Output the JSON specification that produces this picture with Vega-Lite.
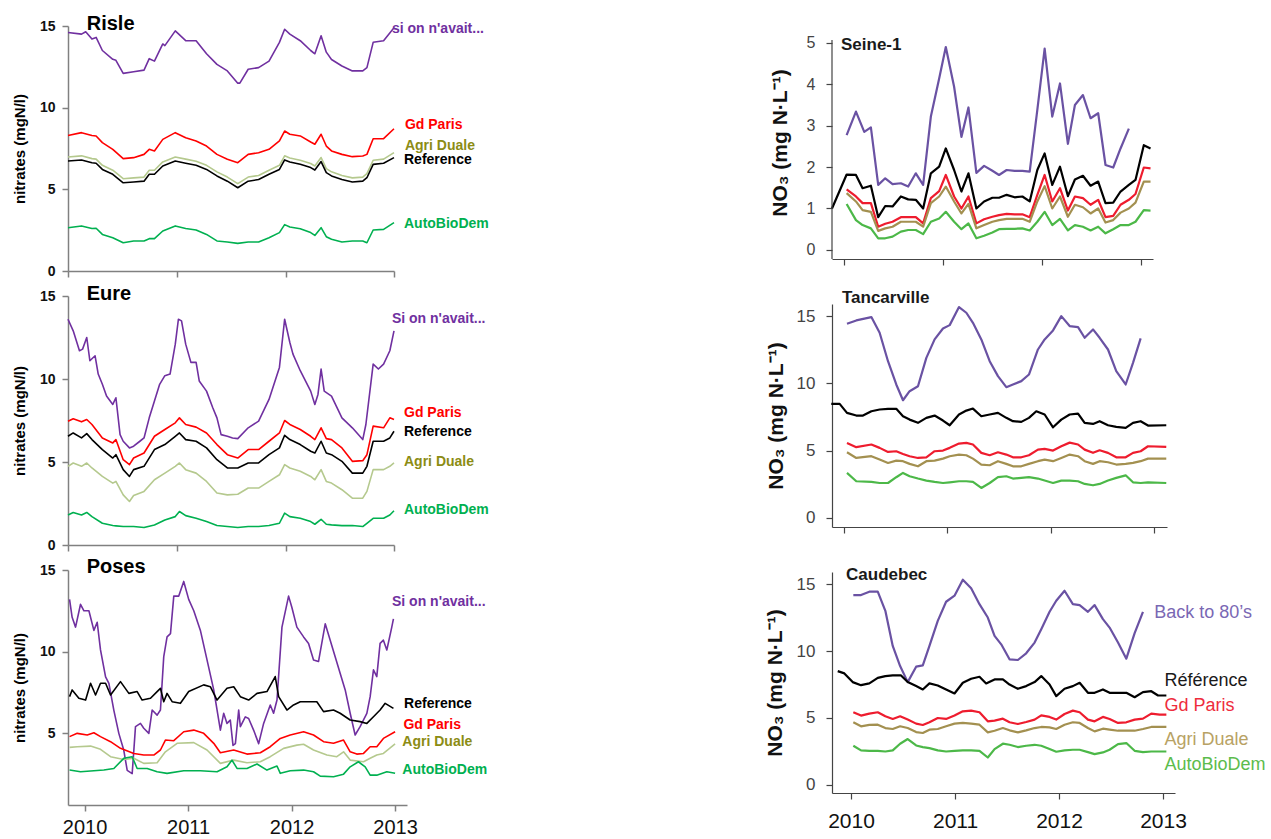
{
"$schema": "https://vega.github.io/schema/vega-lite/v6.json",
"background": "white",
"padding": {"left": 12, "top": 14, "right": 0, "bottom": 0},
"config": {"view": {"stroke": null}, "font": "Liberation Sans", "axis": {"grid": false}, "line": {"strokeJoin": "round"}},
"datasets": {
"lines": [
{"p":"Risle","s":"S","t":[2009.87,2010.0,2010.04,2010.1,2010.14,2010.2,2010.3,2010.33,2010.4,2010.5,2010.6,2010.65,2010.7,2010.78,2010.8,2010.9,2011.0,2011.1,2011.2,2011.3,2011.4,2011.5,2011.52,2011.6,2011.7,2011.8,2011.9,2011.95,2012.0,2012.1,2012.2,2012.24,2012.3,2012.35,2012.4,2012.5,2012.6,2012.7,2012.74,2012.8,2012.9,2013.0],"v":[14.6,14.5,14.65,14.2,14.3,13.5,12.96,12.9,12.1,12.2,12.3,13.0,12.85,13.9,13.8,14.7,14.1,14.1,13.3,12.65,12.25,11.5,11.5,12.35,12.45,12.85,14.0,14.8,14.5,14.1,13.5,13.3,14.4,13.4,12.95,12.55,12.25,12.25,12.45,14.0,14.1,14.9]},
{"p":"Risle","s":"G","t":[2009.87,2010.0,2010.1,2010.14,2010.2,2010.3,2010.4,2010.5,2010.6,2010.65,2010.7,2010.78,2010.9,2011.0,2011.1,2011.2,2011.3,2011.4,2011.5,2011.6,2011.7,2011.8,2011.9,2011.95,2012.0,2012.1,2012.2,2012.24,2012.3,2012.35,2012.4,2012.5,2012.6,2012.7,2012.74,2012.8,2012.9,2013.0],"v":[8.3,8.47,8.3,8.27,7.86,7.45,6.88,6.94,7.14,7.45,7.35,8.06,8.47,8.16,7.96,7.65,7.14,6.84,6.63,7.14,7.24,7.45,7.96,8.57,8.37,8.27,7.9,7.76,8.37,7.65,7.35,7.14,7.0,7.04,7.14,8.1,8.1,8.71]},
{"p":"Risle","s":"A","t":[2009.87,2010.0,2010.1,2010.14,2010.2,2010.3,2010.4,2010.5,2010.6,2010.65,2010.7,2010.78,2010.9,2011.0,2011.1,2011.2,2011.3,2011.4,2011.5,2011.6,2011.7,2011.8,2011.9,2011.95,2012.0,2012.1,2012.2,2012.24,2012.3,2012.35,2012.4,2012.5,2012.6,2012.7,2012.74,2012.8,2012.9,2013.0],"v":[6.98,7.05,6.88,6.85,6.47,6.17,5.65,5.7,5.75,6.17,6.17,6.68,6.98,6.85,6.72,6.47,6.07,5.75,5.35,5.75,5.85,6.17,6.47,7.05,6.92,6.78,6.58,6.43,6.95,6.27,6.07,5.85,5.7,5.75,5.96,6.78,6.85,7.25]},
{"p":"Risle","s":"R","t":[2009.87,2010.0,2010.1,2010.14,2010.2,2010.3,2010.4,2010.5,2010.6,2010.65,2010.7,2010.78,2010.9,2011.0,2011.1,2011.2,2011.3,2011.4,2011.5,2011.6,2011.7,2011.8,2011.9,2011.95,2012.0,2012.1,2012.2,2012.24,2012.3,2012.35,2012.4,2012.5,2012.6,2012.7,2012.74,2012.8,2012.9,2013.0],"v":[6.73,6.8,6.63,6.6,6.22,5.92,5.4,5.45,5.5,5.92,5.92,6.43,6.73,6.6,6.47,6.22,5.82,5.5,5.1,5.5,5.6,5.92,6.22,6.8,6.67,6.53,6.33,6.18,6.7,6.02,5.82,5.6,5.45,5.5,5.71,6.53,6.6,6.94]},
{"p":"Risle","s":"B","t":[2009.87,2010.0,2010.1,2010.14,2010.2,2010.3,2010.4,2010.5,2010.6,2010.65,2010.7,2010.78,2010.9,2011.0,2011.1,2011.2,2011.3,2011.4,2011.5,2011.6,2011.7,2011.8,2011.9,2011.95,2012.0,2012.1,2012.2,2012.24,2012.3,2012.35,2012.4,2012.5,2012.6,2012.7,2012.74,2012.8,2012.9,2013.0],"v":[2.65,2.76,2.6,2.62,2.24,2.04,1.73,1.84,1.84,1.98,1.98,2.45,2.76,2.6,2.51,2.24,1.84,1.78,1.69,1.78,1.78,2.04,2.35,2.84,2.69,2.59,2.35,2.18,2.65,2.1,1.94,1.78,1.84,1.84,1.73,2.51,2.55,2.96]},
{"p":"Eure","s":"S","t":[2009.87,2009.92,2009.98,2010.01,2010.05,2010.08,2010.13,2010.16,2010.2,2010.24,2010.3,2010.33,2010.37,2010.4,2010.46,2010.5,2010.56,2010.6,2010.65,2010.7,2010.75,2010.8,2010.85,2010.9,2010.93,2010.96,2011.0,2011.05,2011.1,2011.13,2011.2,2011.26,2011.3,2011.34,2011.4,2011.45,2011.5,2011.6,2011.7,2011.8,2011.9,2011.95,2012.0,2012.03,2012.1,2012.2,2012.24,2012.27,2012.3,2012.33,2012.4,2012.5,2012.6,2012.7,2012.73,2012.8,2012.85,2012.9,2012.96,2013.0],"v":[13.6,12.9,11.7,11.8,12.5,11.1,11.4,10.3,9.68,8.97,8.47,8.87,6.65,6.25,5.85,5.95,6.25,6.45,7.66,8.67,9.68,10.2,10.3,12.1,13.6,13.5,12.1,11.0,11.0,9.88,9.27,8.27,7.66,6.65,6.55,6.45,6.41,7.06,7.46,8.77,10.7,13.6,12.2,11.5,10.5,9.27,8.47,9.07,10.6,9.27,8.97,7.66,7.06,6.35,7.26,10.9,10.6,10.9,11.7,12.9]},
{"p":"Eure","s":"G","t":[2009.87,2009.92,2010.0,2010.05,2010.1,2010.2,2010.3,2010.33,2010.4,2010.46,2010.5,2010.6,2010.7,2010.8,2010.9,2010.94,2011.0,2011.1,2011.2,2011.3,2011.4,2011.5,2011.6,2011.7,2011.8,2011.9,2011.95,2012.0,2012.1,2012.2,2012.24,2012.3,2012.35,2012.4,2012.5,2012.6,2012.7,2012.74,2012.8,2012.9,2012.96,2013.0],"v":[7.46,7.6,7.42,7.56,7.26,6.45,6.15,6.35,5.14,4.84,5.24,5.54,6.55,6.96,7.36,7.66,7.26,7.1,6.75,6.05,5.44,5.24,5.75,5.75,6.25,6.75,7.5,7.26,6.96,6.55,6.35,7.06,6.41,6.35,5.85,5.04,5.08,5.44,7.16,7.06,7.66,7.56]},
{"p":"Eure","s":"A","t":[2009.87,2009.92,2010.0,2010.05,2010.1,2010.2,2010.3,2010.33,2010.4,2010.46,2010.5,2010.6,2010.7,2010.8,2010.9,2010.94,2011.0,2011.1,2011.2,2011.3,2011.4,2011.5,2011.6,2011.7,2011.8,2011.9,2011.95,2012.0,2012.1,2012.2,2012.24,2012.3,2012.35,2012.4,2012.5,2012.6,2012.7,2012.74,2012.8,2012.9,2012.96,2013.0],"v":[4.74,4.94,4.74,4.94,4.64,4.13,3.73,3.83,3.02,2.62,2.98,3.23,3.93,4.33,4.74,4.94,4.54,4.33,3.83,3.13,3.02,3.06,3.43,3.43,3.83,4.23,4.84,4.64,4.44,4.13,3.93,4.54,3.83,3.73,3.33,2.82,2.82,3.23,4.54,4.54,4.74,4.94]},
{"p":"Eure","s":"R","t":[2009.87,2009.92,2010.0,2010.05,2010.1,2010.2,2010.3,2010.33,2010.4,2010.46,2010.5,2010.6,2010.7,2010.8,2010.9,2010.94,2011.0,2011.1,2011.2,2011.3,2011.4,2011.5,2011.6,2011.7,2011.8,2011.9,2011.95,2012.0,2012.1,2012.2,2012.24,2012.3,2012.35,2012.4,2012.5,2012.6,2012.7,2012.74,2012.8,2012.9,2012.96,2013.0],"v":[6.55,6.75,6.45,6.71,6.35,5.75,5.24,5.44,4.54,4.13,4.54,4.74,5.75,6.05,6.55,6.75,6.35,6.25,5.85,5.14,4.64,4.64,4.94,4.94,5.44,5.85,6.61,6.35,6.05,5.65,5.54,6.25,5.54,5.44,5.04,4.33,4.33,4.74,6.25,6.25,6.45,6.85]},
{"p":"Eure","s":"B","t":[2009.87,2009.92,2010.0,2010.05,2010.1,2010.2,2010.3,2010.33,2010.4,2010.46,2010.5,2010.6,2010.7,2010.8,2010.9,2010.94,2011.0,2011.1,2011.2,2011.3,2011.4,2011.5,2011.6,2011.7,2011.8,2011.9,2011.95,2012.0,2012.1,2012.2,2012.24,2012.3,2012.35,2012.4,2012.5,2012.6,2012.7,2012.74,2012.8,2012.9,2012.96,2013.0],"v":[1.81,1.96,1.81,1.96,1.71,1.31,1.17,1.15,1.11,1.11,1.11,1.05,1.21,1.51,1.71,2.02,1.77,1.61,1.41,1.17,1.11,1.05,1.11,1.11,1.17,1.31,1.92,1.71,1.61,1.41,1.25,1.55,1.25,1.21,1.17,1.17,1.11,1.31,1.61,1.61,1.81,2.06]},
{"p":"Poses","s":"S","t":[2009.855,2009.88,2009.913,2009.961,2009.994,2010.042,2010.09,2010.122,2010.154,2010.203,2010.235,2010.283,2010.331,2010.379,2010.412,2010.46,2010.476,2010.492,2010.54,2010.572,2010.621,2010.653,2010.701,2010.733,2010.765,2010.797,2010.83,2010.862,2010.91,2010.958,2011.006,2011.055,2011.119,2011.183,2011.248,2011.312,2011.344,2011.376,2011.408,2011.434,2011.457,2011.489,2011.505,2011.553,2011.585,2011.633,2011.682,2011.73,2011.794,2011.826,2011.859,2011.907,2011.971,2012.003,2012.051,2012.116,2012.164,2012.212,2012.26,2012.325,2012.373,2012.421,2012.469,2012.518,2012.566,2012.614,2012.662,2012.727,2012.759,2012.791,2012.823,2012.855,2012.887,2012.92,2012.968,2012.984],"v":[13.2,12.1,11.5,12.9,12.5,12.5,11.3,11.8,10.1,8.45,8.05,6.4,4.99,3.95,2.72,2.52,3.95,5.4,5.6,5.3,4.99,6.42,6.11,6.42,9.69,10.9,11.1,13.4,13.4,14.3,13.2,12.5,11.3,9.49,7.65,5.19,6.22,5.6,5.8,4.25,4.36,6.42,5.4,6.0,5.9,5.19,4.36,5.6,6.73,6.22,7.03,11.5,13.4,12.7,11.5,10.9,10.5,9.49,9.39,11.7,10.7,9.69,8.67,7.65,6.22,4.89,5.4,6.22,7.24,8.88,8.47,10.5,10.7,10.1,11.5,12.0]},
{"p":"Poses","s":"G","t":[2009.855,2009.929,2010.026,2010.09,2010.154,2010.251,2010.347,2010.476,2010.572,2010.669,2010.733,2010.781,2010.862,2010.958,2011.055,2011.151,2011.248,2011.312,2011.441,2011.569,2011.698,2011.794,2011.891,2011.987,2012.116,2012.212,2012.309,2012.405,2012.502,2012.566,2012.63,2012.695,2012.759,2012.823,2012.887,2013.0],"v":[4.79,4.99,4.89,5.03,4.79,4.48,4.07,3.76,3.66,3.66,3.97,4.58,4.54,5.09,5.19,4.99,4.38,3.8,3.97,3.72,3.8,4.17,4.68,4.89,5.09,4.89,4.48,4.38,4.58,3.86,3.72,3.76,4.17,4.17,4.68,5.09]},
{"p":"Poses","s":"A","t":[2009.855,2009.929,2010.058,2010.154,2010.251,2010.379,2010.476,2010.572,2010.701,2010.781,2010.894,2011.055,2011.183,2011.312,2011.441,2011.569,2011.698,2011.794,2011.923,2012.051,2012.116,2012.212,2012.341,2012.437,2012.502,2012.566,2012.695,2012.759,2012.823,2012.887,2013.0],"v":[4.13,4.17,4.21,4.01,3.56,3.39,3.46,3.15,3.19,3.86,4.38,4.42,3.97,3.15,3.35,3.19,3.25,3.56,4.07,4.27,4.32,3.97,3.66,3.56,3.86,3.35,3.25,3.46,3.66,3.76,4.34]},
{"p":"Poses","s":"R","t":[2009.855,2009.88,2009.945,2010.01,2010.058,2010.106,2010.154,2010.203,2010.251,2010.347,2010.428,2010.508,2010.556,2010.637,2010.701,2010.733,2010.765,2010.797,2010.846,2010.926,2011.006,2011.151,2011.215,2011.28,2011.376,2011.441,2011.505,2011.585,2011.666,2011.762,2011.842,2011.875,2011.955,2012.019,2012.084,2012.244,2012.309,2012.405,2012.469,2012.566,2012.662,2012.727,2012.791,2012.855,2012.904,2012.984],"v":[7.24,7.65,7.14,7.03,8.06,7.34,8.06,8.06,7.34,8.16,7.44,7.55,7.03,7.14,7.55,7.75,6.93,7.44,6.93,6.83,7.55,7.96,7.85,7.03,7.75,7.85,7.24,7.03,7.44,7.55,8.47,7.24,6.42,6.73,6.93,6.93,6.32,6.42,6.22,5.81,5.71,5.6,6.01,6.42,6.83,6.52]},
{"p":"Poses","s":"B","t":[2009.855,2009.961,2010.09,2010.186,2010.283,2010.379,2010.46,2010.508,2010.605,2010.701,2010.797,2010.958,2011.119,2011.28,2011.376,2011.424,2011.473,2011.569,2011.666,2011.762,2011.859,2011.891,2011.987,2012.116,2012.212,2012.277,2012.405,2012.502,2012.566,2012.646,2012.711,2012.759,2012.823,2012.92,2013.0],"v":[2.74,2.64,2.7,2.74,2.84,3.46,3.56,2.84,2.84,2.64,2.54,2.7,2.7,2.64,2.94,3.35,2.84,2.84,3.11,2.74,2.99,2.54,2.7,2.74,2.64,2.37,2.33,2.49,2.94,3.25,2.94,2.43,2.43,2.64,2.54]},
{"p":"Seine","s":"S","t":[2010.024,2010.118,2010.202,2010.269,2010.343,2010.414,2010.488,2010.572,2010.646,2010.723,2010.797,2010.875,2010.959,2011.026,2011.11,2011.184,2011.255,2011.335,2011.413,2011.497,2011.564,2011.641,2011.722,2011.8,2011.874,2011.951,2012.025,2012.102,2012.18,2012.26,2012.331,2012.412,2012.489,2012.566,2012.64,2012.718,2012.792,2012.876],"v":[2.77,3.34,2.85,2.96,1.57,1.73,1.59,1.61,1.53,1.85,1.57,3.22,4.14,4.9,3.94,2.73,3.44,1.86,2.03,1.91,1.81,1.93,1.91,1.91,1.89,3.38,4.86,3.22,4.02,2.56,3.5,3.74,3.18,3.3,2.05,1.99,2.45,2.93]},
{"p":"Seine","s":"G","t":[2010.024,2010.118,2010.185,2010.269,2010.343,2010.414,2010.488,2010.572,2010.646,2010.723,2010.797,2010.875,2010.959,2011.026,2011.11,2011.184,2011.255,2011.335,2011.413,2011.497,2011.564,2011.641,2011.722,2011.8,2011.874,2011.951,2012.025,2012.102,2012.18,2012.26,2012.331,2012.412,2012.489,2012.566,2012.64,2012.718,2012.792,2012.876,2012.943,2013.027,2013.095],"v":[1.46,1.29,1.13,1.13,0.56,0.63,0.68,0.79,0.79,0.79,0.64,1.25,1.42,1.81,1.29,1.0,1.29,0.64,0.74,0.8,0.84,0.87,0.86,0.86,0.79,1.33,1.81,1.17,1.49,0.95,1.29,1.25,1.09,1.21,0.79,0.82,1.09,1.21,1.35,1.99,1.97]},
{"p":"Seine","s":"A","t":[2010.024,2010.118,2010.185,2010.269,2010.343,2010.414,2010.488,2010.572,2010.646,2010.723,2010.797,2010.875,2010.959,2011.026,2011.11,2011.184,2011.255,2011.335,2011.413,2011.497,2011.564,2011.641,2011.722,2011.8,2011.874,2011.951,2012.025,2012.102,2012.18,2012.26,2012.331,2012.412,2012.489,2012.566,2012.64,2012.718,2012.792,2012.876,2012.943,2013.027,2013.095],"v":[1.37,1.17,0.96,0.92,0.46,0.52,0.56,0.68,0.68,0.68,0.56,1.13,1.29,1.53,1.17,0.88,1.11,0.52,0.6,0.68,0.72,0.75,0.75,0.75,0.68,1.17,1.54,1.0,1.29,0.8,1.09,1.03,0.88,1.0,0.66,0.72,0.9,1.0,1.14,1.65,1.65]},
{"p":"Seine","s":"R","t":[2009.876,2010.024,2010.118,2010.185,2010.269,2010.343,2010.414,2010.488,2010.572,2010.646,2010.723,2010.797,2010.875,2010.959,2011.026,2011.11,2011.184,2011.255,2011.335,2011.413,2011.497,2011.564,2011.641,2011.722,2011.8,2011.874,2011.951,2012.025,2012.102,2012.18,2012.26,2012.331,2012.412,2012.489,2012.566,2012.64,2012.718,2012.792,2012.876,2012.943,2013.027,2013.095],"v":[1.0,1.82,1.81,1.49,1.55,0.79,1.06,1.05,1.29,1.22,1.21,1.0,1.85,2.01,2.45,1.93,1.41,1.85,1.0,1.17,1.26,1.26,1.33,1.27,1.29,1.17,1.93,2.33,1.57,2.01,1.3,1.7,1.79,1.55,1.65,1.13,1.14,1.41,1.57,1.69,2.53,2.45]},
{"p":"Seine","s":"B","t":[2010.024,2010.118,2010.185,2010.269,2010.343,2010.414,2010.488,2010.572,2010.646,2010.723,2010.797,2010.875,2010.959,2011.026,2011.11,2011.184,2011.255,2011.335,2011.413,2011.497,2011.564,2011.641,2011.722,2011.8,2011.874,2011.951,2012.025,2012.102,2012.18,2012.26,2012.331,2012.412,2012.489,2012.566,2012.64,2012.718,2012.792,2012.876,2012.943,2013.027,2013.095],"v":[1.11,0.72,0.6,0.52,0.28,0.28,0.32,0.44,0.48,0.48,0.38,0.68,0.76,0.92,0.68,0.5,0.64,0.28,0.34,0.42,0.5,0.51,0.51,0.52,0.47,0.68,0.92,0.6,0.75,0.47,0.6,0.56,0.47,0.56,0.4,0.5,0.6,0.6,0.68,0.96,0.95]},
{"p":"Tanc","s":"S","t":[2010.029,2010.119,2010.265,2010.345,2010.426,2010.506,2010.571,2010.635,2010.716,2010.797,2010.877,2010.958,2011.023,2011.113,2011.184,2011.248,2011.329,2011.41,2011.49,2011.571,2011.635,2011.716,2011.79,2011.877,2011.942,2012.023,2012.103,2012.184,2012.265,2012.329,2012.41,2012.474,2012.555,2012.635,2012.726,2012.797,2012.871],"v":[14.43,14.68,14.93,13.76,11.65,9.92,8.75,9.42,9.79,11.9,13.27,14.08,14.33,15.67,15.25,14.5,13.27,11.65,10.54,9.72,9.92,10.17,10.66,12.52,13.27,13.94,15.0,14.26,14.18,13.39,14.01,13.39,12.52,10.91,9.92,11.53,13.34]},
{"p":"Tanc","s":"G","t":[2010.029,2010.119,2010.265,2010.345,2010.426,2010.506,2010.571,2010.635,2010.716,2010.797,2010.877,2010.958,2011.023,2011.113,2011.184,2011.248,2011.329,2011.41,2011.49,2011.571,2011.635,2011.716,2011.79,2011.877,2011.942,2012.023,2012.103,2012.184,2012.265,2012.329,2012.41,2012.474,2012.555,2012.635,2012.726,2012.797,2012.871,2012.942,2013.119],"v":[5.58,5.26,5.46,5.21,4.91,4.96,4.76,4.59,4.46,4.51,4.96,5.01,5.21,5.53,5.58,5.46,4.84,4.66,4.88,4.71,4.51,4.51,4.66,5.08,5.13,5.01,5.33,5.6,5.46,5.08,4.84,5.03,4.84,4.51,4.51,4.84,4.96,5.33,5.28]},
{"p":"Tanc","s":"A","t":[2010.029,2010.119,2010.265,2010.345,2010.426,2010.506,2010.571,2010.635,2010.716,2010.797,2010.877,2010.958,2011.023,2011.113,2011.184,2011.248,2011.329,2011.41,2011.49,2011.571,2011.635,2011.716,2011.79,2011.877,2011.942,2012.023,2012.103,2012.184,2012.265,2012.329,2012.41,2012.474,2012.555,2012.635,2012.726,2012.797,2012.871,2012.942,2013.119],"v":[4.88,4.46,4.59,4.34,4.09,4.26,4.22,4.02,3.84,4.22,4.26,4.41,4.59,4.71,4.66,4.41,3.97,3.92,4.22,4.02,3.84,3.84,4.02,4.22,4.34,4.22,4.46,4.71,4.59,4.22,4.02,4.22,4.14,3.97,4.02,4.09,4.22,4.41,4.41]},
{"p":"Tanc","s":"R","t":[2009.877,2009.958,2010.029,2010.119,2010.184,2010.265,2010.345,2010.426,2010.506,2010.571,2010.635,2010.716,2010.797,2010.877,2010.958,2011.023,2011.113,2011.184,2011.248,2011.329,2011.41,2011.49,2011.571,2011.635,2011.716,2011.79,2011.861,2011.942,2012.023,2012.103,2012.184,2012.265,2012.329,2012.41,2012.474,2012.555,2012.635,2012.726,2012.797,2012.871,2012.942,2013.119],"v":[8.48,8.48,7.81,7.61,7.61,7.93,8.06,8.11,8.11,7.56,7.31,7.07,7.44,7.61,7.24,6.89,7.69,7.98,8.13,7.56,7.69,7.81,7.44,7.19,7.14,7.44,7.93,7.69,6.74,7.31,7.69,7.76,7.07,6.99,7.19,6.89,6.77,6.69,7.07,7.19,6.87,6.89]},
{"p":"Tanc","s":"B","t":[2010.029,2010.119,2010.265,2010.345,2010.426,2010.506,2010.571,2010.635,2010.716,2010.797,2010.877,2010.958,2011.023,2011.113,2011.184,2011.248,2011.329,2011.41,2011.49,2011.571,2011.635,2011.716,2011.79,2011.877,2011.942,2012.023,2012.103,2012.184,2012.265,2012.329,2012.41,2012.474,2012.555,2012.635,2012.726,2012.797,2012.871,2012.942,2013.119],"v":[3.35,2.73,2.68,2.6,2.6,3.03,3.35,3.1,2.93,2.78,2.68,2.6,2.65,2.73,2.73,2.68,2.23,2.6,3.03,3.1,2.93,2.98,3.03,2.93,2.78,2.6,2.78,2.78,2.73,2.53,2.43,2.53,2.78,2.98,3.17,2.65,2.6,2.65,2.6]},
{"p":"Caud","s":"S","t":[2010.022,2010.096,2010.176,2010.257,2010.33,2010.401,2010.472,2010.545,2010.626,2010.69,2010.754,2010.834,2010.914,2010.995,2011.075,2011.155,2011.235,2011.315,2011.38,2011.444,2011.524,2011.604,2011.684,2011.765,2011.829,2011.909,2011.973,2012.053,2012.133,2012.198,2012.278,2012.342,2012.422,2012.486,2012.567,2012.647,2012.727,2012.807],"v":[14.18,14.18,14.43,14.43,13.0,10.38,8.88,7.68,8.83,8.93,10.38,12.25,13.68,14.13,15.33,14.68,13.5,12.5,11.13,10.5,9.38,9.33,9.83,10.63,11.63,12.93,13.75,14.5,13.5,13.43,12.93,13.43,12.38,11.75,10.63,9.43,11.33,12.93]},
{"p":"Caud","s":"G","t":[2010.022,2010.096,2010.176,2010.257,2010.33,2010.401,2010.472,2010.545,2010.626,2010.69,2010.754,2010.834,2010.914,2010.995,2011.075,2011.155,2011.235,2011.315,2011.38,2011.46,2011.524,2011.604,2011.684,2011.765,2011.829,2011.909,2011.973,2012.053,2012.133,2012.198,2012.278,2012.342,2012.422,2012.486,2012.567,2012.647,2012.727,2012.807,2012.887,2012.968,2013.032],"v":[5.43,5.18,5.33,5.43,5.13,4.93,5.13,4.88,4.58,4.48,4.68,5.0,4.93,5.18,5.5,5.55,5.43,4.75,4.8,4.95,4.68,4.55,4.7,4.88,5.2,5.08,4.88,5.3,5.55,5.43,4.88,4.75,5.08,4.93,4.63,4.68,4.88,4.95,5.33,5.25,5.25]},
{"p":"Caud","s":"A","t":[2010.022,2010.096,2010.176,2010.257,2010.33,2010.401,2010.472,2010.545,2010.626,2010.69,2010.754,2010.834,2010.914,2010.995,2011.075,2011.155,2011.235,2011.315,2011.38,2011.46,2011.524,2011.604,2011.684,2011.765,2011.829,2011.909,2011.973,2012.053,2012.133,2012.198,2012.278,2012.342,2012.422,2012.486,2012.567,2012.647,2012.727,2012.807,2012.887,2012.968,2013.032],"v":[4.68,4.38,4.48,4.5,4.25,4.18,4.38,4.25,3.95,3.88,4.13,4.18,4.38,4.58,4.63,4.58,4.5,3.93,4.05,4.25,4.08,3.93,4.08,4.25,4.33,4.3,4.18,4.5,4.68,4.63,4.25,4.0,4.2,4.13,4.05,4.05,4.05,4.18,4.33,4.33,4.33]},
{"p":"Caud","s":"R","t":[2009.872,2009.936,2010.016,2010.096,2010.176,2010.257,2010.33,2010.401,2010.481,2010.545,2010.626,2010.69,2010.754,2010.834,2010.914,2010.995,2011.075,2011.155,2011.235,2011.299,2011.38,2011.46,2011.524,2011.604,2011.684,2011.765,2011.829,2011.909,2011.973,2012.053,2012.133,2012.198,2012.278,2012.342,2012.422,2012.486,2012.567,2012.647,2012.727,2012.807,2012.887,2012.952,2013.032],"v":[8.5,8.33,7.68,7.45,7.58,8.0,8.13,8.18,8.18,7.68,7.38,7.13,7.58,7.43,7.13,6.83,7.63,7.93,8.08,7.58,7.88,7.88,7.5,7.18,7.38,7.68,8.13,7.5,6.63,7.18,7.38,7.63,6.88,6.88,7.13,6.88,6.88,6.88,6.55,6.93,7.0,6.68,6.68]},
{"p":"Caud","s":"B","t":[2010.022,2010.096,2010.176,2010.257,2010.33,2010.401,2010.472,2010.545,2010.626,2010.69,2010.754,2010.834,2010.914,2010.995,2011.075,2011.155,2011.235,2011.315,2011.38,2011.46,2011.524,2011.604,2011.684,2011.765,2011.829,2011.909,2011.973,2012.053,2012.133,2012.198,2012.278,2012.342,2012.422,2012.486,2012.567,2012.647,2012.727,2012.807,2012.887,2012.968,2013.032],"v":[2.93,2.58,2.55,2.55,2.5,2.58,3.08,3.43,2.95,2.83,2.75,2.58,2.5,2.55,2.58,2.58,2.55,2.05,2.68,3.08,3.0,2.83,2.93,3.0,2.93,2.68,2.48,2.58,2.63,2.63,2.45,2.3,2.43,2.63,3.05,3.13,2.55,2.45,2.5,2.5,2.5]}
],
"labels": [
{"p":"Risle","s":"T","txt":"Risle","t":2010.05,"v":15.12},
{"p":"Risle","s":"S","txt":"si on n'avait...","t":2012.98,"v":14.8},
{"p":"Risle","s":"G","txt":"Gd Paris","t":2013.105,"v":8.94},
{"p":"Risle","s":"A","txt":"Agri Duale","t":2013.105,"v":7.65},
{"p":"Risle","s":"R","txt":"Reference","t":2013.096,"v":6.78},
{"p":"Risle","s":"B","txt":"AutoBioDem","t":2013.096,"v":2.86},
{"p":"Eure","s":"T","txt":"Eure","t":2010.05,"v":15.12},
{"p":"Eure","s":"S","txt":"Si on n'avait...","t":2012.98,"v":13.6},
{"p":"Eure","s":"G","txt":"Gd Paris","t":2013.096,"v":7.93},
{"p":"Eure","s":"R","txt":"Reference","t":2013.096,"v":6.83},
{"p":"Eure","s":"A","txt":"Agri Duale","t":2013.096,"v":4.98},
{"p":"Eure","s":"B","txt":"AutoBioDem","t":2013.096,"v":2.11},
{"p":"Poses","s":"T","txt":"Poses","t":2010.02,"v":15.18},
{"p":"Poses","s":"S","txt":"Si on n'avait...","t":2012.97,"v":13.04},
{"p":"Poses","s":"R","txt":"Reference","t":2013.087,"v":6.79},
{"p":"Poses","s":"G","txt":"Gd Paris","t":2013.08,"v":5.5},
{"p":"Poses","s":"A","txt":"Agri Duale","t":2013.07,"v":4.46},
{"p":"Poses","s":"B","txt":"AutoBioDem","t":2013.07,"v":2.75},
{"p":"Seine","s":"T","txt":"Seine-1","t":2009.967,"v":4.95},
{"p":"Tanc","s":"T","txt":"Tancarville","t":2009.98,"v":16.35},
{"p":"Caud","s":"T","txt":"Caudebec","t":2009.952,"v":15.68},
{"p":"Caud","s":"S","txt":"Back to 80’s","t":2012.916,"v":12.84},
{"p":"Caud","s":"R","txt":"Référence","t":2013.013,"v":7.76},
{"p":"Caud","s":"G","txt":"Gd Paris","t":2013.013,"v":5.89},
{"p":"Caud","s":"A","txt":"Agri Duale","t":2013.013,"v":3.35},
{"p":"Caud","s":"B","txt":"AutoBioDem","t":2013.013,"v":1.49}
]
},
"spacing": 275,
"hconcat": [
{"vconcat": [
{"width":326,"height":245,
"layer":[
{"data":{"name":"lines"},"transform":[{"filter":"datum.p=='Risle'"},{"flatten":["t","v"]}],
"mark":{"type":"line","strokeWidth":1.6},
"encoding":{
"x":{"field":"t","type":"quantitative","scale":{"domain":[2009.87,2013.0],"nice":false,"zero":false},"axis":{"values":[2009.87,2010.915,2011.96,2013.0],"labels":false,"title":null,"tickSize":6,"tickWidth":1.5,"domainWidth":1.5,"domainColor":"#808080","tickColor":"#808080"}},
"y":{"field":"v","type":"quantitative","scale":{"domain":[0,15],"nice":false},"axis":{"values":[0,5,10,15],"title":"nitrates (mgN/l)","titleFontSize":15,"titleFontWeight":"bold","titleColor":"#000000","titlePadding":12,"labelFontSize":14,"labelFontWeight":"bold","labelColor":"#111111","labelPadding":7,"tickSize":6,"tickWidth":1.5,"domainWidth":1.5,"domainColor":"#808080","tickColor":"#808080"}},
"color":{"field":"s","type":"nominal","scale":{"domain":["S","G","A","R","B"],"range":["#7030a0","#ff0000","#b5c98e","#000000","#00b050"]},"legend":null}}},
{"data":{"name":"labels"},"transform":[{"filter":"datum.p=='Risle' && datum.s!='T'"}],
"mark":{"type":"text","align":"left","baseline":"middle","fontSize":14,"fontWeight":"bold"},
"encoding":{"x":{"field":"t","type":"quantitative"},"y":{"field":"v","type":"quantitative"},"text":{"field":"txt"},"color":{"field":"s","type":"nominal","scale":{"domain":["S","G","A","R","B"],"range":["#7030a0","#ff0000","#8c8c14","#000000","#00b050"]},"legend":null}}},
{"data":{"name":"labels"},"transform":[{"filter":"datum.p=='Risle' && datum.s=='T'"}],
"mark":{"type":"text","align":"left","baseline":"middle","fontSize":20,"fontWeight":"bold","color":"#000000"},
"encoding":{"x":{"field":"t","type":"quantitative"},"y":{"field":"v","type":"quantitative"},"text":{"field":"txt"}}}
],
"resolve":{"scale":{"color":"independent"}}},
{"width":326,"height":249,
"layer":[
{"data":{"name":"lines"},"transform":[{"filter":"datum.p=='Eure'"},{"flatten":["t","v"]}],
"mark":{"type":"line","strokeWidth":1.6},
"encoding":{
"x":{"field":"t","type":"quantitative","scale":{"domain":[2009.87,2013.0],"nice":false,"zero":false},"axis":{"values":[2009.87,2010.915,2011.96,2013.0],"labels":false,"title":null,"tickSize":6,"tickWidth":1.5,"domainWidth":1.5,"domainColor":"#808080","tickColor":"#808080"}},
"y":{"field":"v","type":"quantitative","scale":{"domain":[0,15],"nice":false},"axis":{"values":[0,5,10,15],"title":"nitrates (mgN/l)","titleFontSize":15,"titleFontWeight":"bold","titleColor":"#000000","titlePadding":12,"labelFontSize":14,"labelFontWeight":"bold","labelColor":"#111111","labelPadding":7,"tickSize":6,"tickWidth":1.5,"domainWidth":1.5,"domainColor":"#808080","tickColor":"#808080"}},
"color":{"field":"s","type":"nominal","scale":{"domain":["S","G","A","R","B"],"range":["#7030a0","#ff0000","#b5c98e","#000000","#00b050"]},"legend":null}}},
{"data":{"name":"labels"},"transform":[{"filter":"datum.p=='Eure' && datum.s!='T'"}],
"mark":{"type":"text","align":"left","baseline":"middle","fontSize":14,"fontWeight":"bold"},
"encoding":{"x":{"field":"t","type":"quantitative"},"y":{"field":"v","type":"quantitative"},"text":{"field":"txt"},"color":{"field":"s","type":"nominal","scale":{"domain":["S","G","A","R","B"],"range":["#7030a0","#ff0000","#8c8c14","#000000","#00b050"]},"legend":null}}},
{"data":{"name":"labels"},"transform":[{"filter":"datum.p=='Eure' && datum.s=='T'"}],
"mark":{"type":"text","align":"left","baseline":"middle","fontSize":20,"fontWeight":"bold","color":"#000000"},
"encoding":{"x":{"field":"t","type":"quantitative"},"y":{"field":"v","type":"quantitative"},"text":{"field":"txt"}}}
],
"resolve":{"scale":{"color":"independent"}}},
{"width":339,"height":235,
"layer":[
{"data":{"name":"lines"},"transform":[{"filter":"datum.p=='Poses'"},{"flatten":["t","v"]}],
"mark":{"type":"line","strokeWidth":1.6},
"encoding":{
"x":{"field":"t","type":"quantitative","scale":{"domain":[2009.84,2013.115],"nice":false,"zero":false},"axis":{"values":[2010,2011,2012,2013],"format":"d","title":null,"tickSize":6,"tickWidth":1.5,"domainWidth":1.5,"domainColor":"#808080","tickColor":"#808080","labelFontSize":20,"labelColor":"#111111","labelPadding":6}},
"y":{"field":"v","type":"quantitative","scale":{"domain":[0.6,15],"nice":false,"zero":false},"axis":{"values":[5,10,15],"title":"nitrates (mgN/l)","titleFontSize":15,"titleFontWeight":"bold","titleColor":"#000000","titlePadding":12,"labelFontSize":14,"labelFontWeight":"bold","labelColor":"#111111","labelPadding":7,"tickSize":6,"tickWidth":1.5,"domainWidth":1.5,"domainColor":"#808080","tickColor":"#808080"}},
"color":{"field":"s","type":"nominal","scale":{"domain":["S","G","A","R","B"],"range":["#7030a0","#ff0000","#b5c98e","#000000","#00b050"]},"legend":null}}},
{"data":{"name":"labels"},"transform":[{"filter":"datum.p=='Poses' && datum.s!='T'"}],
"mark":{"type":"text","align":"left","baseline":"middle","fontSize":14,"fontWeight":"bold"},
"encoding":{"x":{"field":"t","type":"quantitative"},"y":{"field":"v","type":"quantitative"},"text":{"field":"txt"},"color":{"field":"s","type":"nominal","scale":{"domain":["S","G","A","R","B"],"range":["#7030a0","#ff0000","#8c8c14","#000000","#00b050"]},"legend":null}}},
{"data":{"name":"labels"},"transform":[{"filter":"datum.p=='Poses' && datum.s=='T'"}],
"mark":{"type":"text","align":"left","baseline":"middle","fontSize":20,"fontWeight":"bold","color":"#000000"},
"encoding":{"x":{"field":"t","type":"quantitative"},"y":{"field":"v","type":"quantitative"},"text":{"field":"txt"}}}
],
"resolve":{"scale":{"color":"independent"}}}
], "spacing": 25, "bounds": "flush"},
{"vconcat": [
{"width":321,"height":233,
"layer":[
{"data":{"name":"lines"},"transform":[{"filter":"datum.p=='Seine'"},{"flatten":["t","v"]}],
"mark":{"type":"line","strokeWidth":2.2},
"encoding":{
"x":{"field":"t","type":"quantitative","scale":{"domain":[2009.876,2013.12],"nice":false,"zero":false},"axis":{"values":[2010,2011,2012,2013],"labels":false,"title":null,"tickSize":6,"tickWidth":1.2,"domainWidth":1.2,"domainColor":"#444444","tickColor":"#444444"}},
"y":{"field":"v","type":"quantitative","scale":{"domain":[-0.22,5.408],"nice":false,"zero":false},"axis":{"values":[0,1,2,3,4,5],"domain":false,"title":"NO₃ (mg N·L⁻¹)","titleFontSize":21,"titleFontWeight":"bold","titleColor":"#111111","titlePadding":16,"labelFontSize":16,"labelColor":"#444444","labelPadding":11,"tickSize":6,"tickWidth":1.2,"tickColor":"#444444"}},
"color":{"field":"s","type":"nominal","scale":{"domain":["S","G","A","R","B"],"range":["#6a52a3","#ee1c2e","#a39050","#000000","#4cb848"]},"legend":null}}},
{"data":{"values":[{}]},
"mark":{"type":"rule","color":"#444444","strokeWidth":1.2},
"encoding":{"x":{"datum":2009.876,"type":"quantitative"},"y":{"datum":-0.22,"type":"quantitative"},"y2":{"datum":5.07}}},
{"data":{"name":"labels"},"transform":[{"filter":"datum.p=='Seine' && datum.s=='T'"}],
"mark":{"type":"text","align":"left","baseline":"middle","fontSize":17,"fontWeight":"bold","color":"#1a1a1a"},
"encoding":{"x":{"field":"t","type":"quantitative"},"y":{"field":"v","type":"quantitative"},"text":{"field":"txt"}}}
],
"resolve":{"scale":{"color":"independent"}}},
{"width":335,"height":223,
"layer":[
{"data":{"name":"lines"},"transform":[{"filter":"datum.p=='Tanc'"},{"flatten":["t","v"]}],
"mark":{"type":"line","strokeWidth":2.2},
"encoding":{
"x":{"field":"t","type":"quantitative","scale":{"domain":[2009.884,2013.126],"nice":false,"zero":false},"axis":{"values":[2010,2011,2012,2013],"labels":false,"title":null,"tickSize":6,"tickWidth":1.2,"domainWidth":1.2,"domainColor":"#444444","tickColor":"#444444"}},
"y":{"field":"v","type":"quantitative","scale":{"domain":[-0.67,15.9],"nice":false,"zero":false},"axis":{"values":[0,5,10,15],"title":"NO₃ (mg N·L⁻¹)","titleFontSize":21,"titleFontWeight":"bold","titleColor":"#111111","titlePadding":10,"labelFontSize":17,"labelColor":"#444444","labelPadding":11,"tickSize":6,"tickWidth":1.2,"domainWidth":1.2,"domainColor":"#444444","tickColor":"#444444"}},
"color":{"field":"s","type":"nominal","scale":{"domain":["S","G","A","R","B"],"range":["#6a52a3","#ee1c2e","#a39050","#000000","#4cb848"]},"legend":null}}},
{"data":{"name":"labels"},"transform":[{"filter":"datum.p=='Tanc' && datum.s=='T'"}],
"mark":{"type":"text","align":"left","baseline":"middle","fontSize":17,"fontWeight":"bold","color":"#1a1a1a"},
"encoding":{"x":{"field":"t","type":"quantitative"},"y":{"field":"v","type":"quantitative"},"text":{"field":"txt"}}}
],
"resolve":{"scale":{"color":"independent"}}},
{"width":343,"height":221,
"layer":[
{"data":{"name":"lines"},"transform":[{"filter":"datum.p=='Caud'"},{"flatten":["t","v"]}],
"mark":{"type":"line","strokeWidth":2.2},
"encoding":{
"x":{"field":"t","type":"quantitative","scale":{"domain":[2009.817,2013.115],"nice":false,"zero":false},"axis":{"values":[2010,2011,2012,2013],"format":"d","title":null,"tickSize":6,"tickWidth":1.2,"domainWidth":1.2,"domainColor":"#444444","tickColor":"#444444","labelFontSize":21,"labelColor":"#111111","labelPadding":11}},
"y":{"field":"v","type":"quantitative","scale":{"domain":[-0.6,15.9],"nice":false,"zero":false},"axis":{"values":[0,5,10,15],"title":"NO₃ (mg N·L⁻¹)","titleFontSize":21,"titleFontWeight":"bold","titleColor":"#111111","titlePadding":11,"labelFontSize":17,"labelColor":"#444444","labelPadding":11,"tickSize":6,"tickWidth":1.2,"domainWidth":1.2,"domainColor":"#444444","tickColor":"#444444"}},
"color":{"field":"s","type":"nominal","scale":{"domain":["S","G","A","R","B"],"range":["#6a52a3","#ee1c2e","#a39050","#000000","#4cb848"]},"legend":null}}},
{"data":{"name":"labels"},"transform":[{"filter":"datum.p=='Caud' && datum.s!='T'"}],
"mark":{"type":"text","align":"left","baseline":"middle","fontSize":18},
"encoding":{"x":{"field":"t","type":"quantitative"},"y":{"field":"v","type":"quantitative"},"text":{"field":"txt"},"color":{"field":"s","type":"nominal","scale":{"domain":["S","G","A","R","B"],"range":["#7a68b4","#ee2c3c","#b8a264","#1a1a1a","#5cbc4c"]},"legend":null}}},
{"data":{"name":"labels"},"transform":[{"filter":"datum.p=='Caud' && datum.s=='T'"}],
"mark":{"type":"text","align":"left","baseline":"middle","fontSize":17,"fontWeight":"bold","color":"#1a1a1a"},
"encoding":{"x":{"field":"t","type":"quantitative"},"y":{"field":"v","type":"quantitative"},"text":{"field":"txt"}}}
],
"resolve":{"scale":{"color":"independent"}}}
], "spacing": 45, "bounds": "flush"}
]
}
